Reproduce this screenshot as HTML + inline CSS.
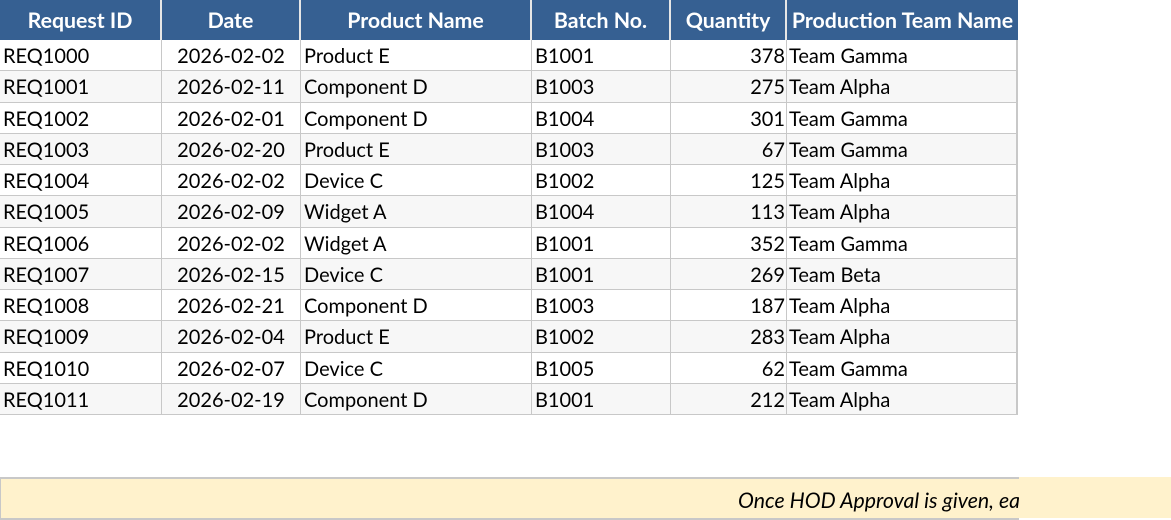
<!DOCTYPE html>
<html><head><meta charset="utf-8"><style>
body{margin:0;width:1171px;height:520px;background:#fff;position:relative;overflow:hidden;font-family:"Lato","Liberation Sans",sans-serif;}
.r{position:absolute;left:0;width:1018px;display:flex;}
.c{box-sizing:border-box;border-right:1px solid #c8c8c8;border-bottom:1px solid #c8c8c8;white-space:nowrap;overflow:hidden;font-size:20px;color:#000;padding:0 3px;line-height:33px;height:31.25px;}
.h .c{background:#366092;color:#fff;font-weight:bold;font-size:21.3px;text-align:center;border-right:2px solid #e6e6e6;height:40px;line-height:41px;border-bottom:none;padding:0;}
.alt .c{background:#f7f7f7;}
.w1{width:162px}.w2{width:139px}.w3{width:231px}.w4{width:139px}.w5{width:116px}.w6{width:231px;border-right:2px solid #c8c8c8}
.ctr{text-align:center}.rt{text-align:right}
.banner{position:absolute;left:0;top:477px;width:1171px;height:41px;background:#fff2cc;}
.bb{position:absolute;left:0;top:477px;width:1018px;height:39px;border-top:2px solid #c8c8c8;border-bottom:2px solid #c8c8c8;border-left:1px solid #c8c8c8;box-sizing:content-box;overflow:hidden;}
.bt{position:absolute;left:737px;top:1px;line-height:40px;font-style:italic;font-size:21.3px;white-space:nowrap;}
</style></head><body>
<div class="r h" style="top:0"><div class="c w1">Request ID</div><div class="c w2">Date</div><div class="c w3">Product Name</div><div class="c w4">Batch No.</div><div class="c w5">Quantity</div><div class="c w6" style="border-right:none">Production Team Name</div></div>
<div id="rows"></div>
<div class="banner"></div>
<div class="bb"><div class="bt">Once HOD Approval is given, each</div></div>
<script>
var d=[["REQ1000","2026-02-02","Product E","B1001",378,"Team Gamma"],["REQ1001","2026-02-11","Component D","B1003",275,"Team Alpha"],["REQ1002","2026-02-01","Component D","B1004",301,"Team Gamma"],["REQ1003","2026-02-20","Product E","B1003",67,"Team Gamma"],["REQ1004","2026-02-02","Device C","B1002",125,"Team Alpha"],["REQ1005","2026-02-09","Widget A","B1004",113,"Team Alpha"],["REQ1006","2026-02-02","Widget A","B1001",352,"Team Gamma"],["REQ1007","2026-02-15","Device C","B1001",269,"Team Beta"],["REQ1008","2026-02-21","Component D","B1003",187,"Team Alpha"],["REQ1009","2026-02-04","Product E","B1002",283,"Team Alpha"],["REQ1010","2026-02-07","Device C","B1005",62,"Team Gamma"],["REQ1011","2026-02-19","Component D","B1001",212,"Team Alpha"]];
var h="";d.forEach(function(x,i){h+='<div class="r'+(i%2?' alt':'')+'" style="top:'+(40+i*31.25)+'px"><div class="c w1">'+x[0]+'</div><div class="c w2 ctr">'+x[1]+'</div><div class="c w3">'+x[2]+'</div><div class="c w4">'+x[3]+'</div><div class="c w5 rt" style="padding-right:1px">'+x[4]+'</div><div class="c w6" style="padding-left:2px">'+x[5]+'</div></div>';});
document.getElementById("rows").innerHTML=h;
</script>
</body></html>
